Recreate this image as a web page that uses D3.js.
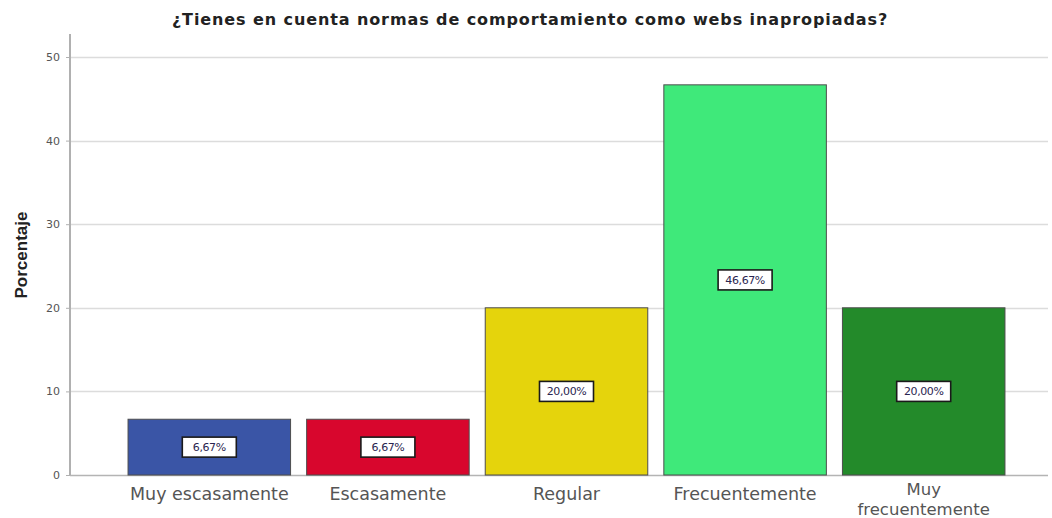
<!DOCTYPE html>
<html>
<head>
<meta charset="utf-8">
<script src="https://cdn.jsdelivr.net/npm/d3@7"></script>
<style>
  body { margin: 0; background: #fff; }
  svg text { font-family: "DejaVu Sans", Verdana, sans-serif; }
</style>
</head>
<body>
<div id="chart"></div>
<script>
// Data
var categories = ["Muy escasamente", "Escasamente", "Regular", "Frecuentemente", "Muy frecuentemente"],
	values = [6.67, 6.67, 20.00, 46.67, 20.00],
	valueLabels = ["6,67%", "6,67%", "20,00%", "46,67%", "20,00%"],
	barColors = ["#3a55a6", "#d8062d", "#e5d40c", "#3fe97a", "#238a2a"],
	yTicks = [0, 10, 20, 30, 40, 50];

var width = 1052,
	height = 518,
	margin = {top: 32, right: 4, bottom: 43, left: 70};

var svg = d3.select("#chart").append("svg")
	.attr("width", width)
	.attr("height", height);

var y = d3.scaleLinear()
	.domain([0, 50])
	.range([height - margin.bottom, 57]);

var x = d3.scaleBand()
	.domain(categories)
	.range([120, 1013])
	.paddingInner(0.09)
	.paddingOuter(0.045);

// grid lines
svg.append("g")
	.selectAll("line")
	.data(yTicks)
	.enter().append("line")
	.attr("x1", margin.left)
	.attr("x2", width - margin.right)
	.attr("y1", function(d) { return Math.round(y(d)) + 0.5; })
	.attr("y2", function(d) { return Math.round(y(d)) + 0.5; })
	.attr("stroke", function(d) { return d === 0 ? "#b4b4b4" : "#dcdcdc"; })
	.attr("stroke-width", 1.5);

// y axis
var yAxis = svg.append("g")
	.attr("transform", "translate(" + margin.left + ",0)")
	.call(d3.axisLeft(y).tickValues(yTicks).tickSize(4).tickPadding(6));
yAxis.select(".domain").remove();
yAxis.append("line")
	.attr("x1", 0).attr("x2", 0)
	.attr("y1", 34).attr("y2", y(0))
	.attr("stroke", "#b0b0b0")
	.attr("stroke-width", 2);
yAxis.selectAll(".tick line").attr("stroke", "#b0b0b0");
yAxis.selectAll(".tick text")
	.attr("fill", "#555")
	.style("font-size", "11px");

// bars
svg.append("g")
	.selectAll("rect")
	.data(values)
	.enter().append("rect")
	.attr("x", function(d, i) { return x(categories[i]); })
	.attr("y", function(d) { return y(d); })
	.attr("width", x.bandwidth())
	.attr("height", function(d) { return y(0) - y(d); })
	.attr("fill", function(d, i) { return barColors[i]; })
	.attr("stroke", "#4d4d4d")
	.attr("stroke-width", 1);

// value labels (white boxes)
var lab = svg.append("g")
	.selectAll("g")
	.data(values)
	.enter().append("g")
	.attr("transform", function(d, i) {
		return "translate(" + (x(categories[i]) + x.bandwidth() / 2) + "," + y(d / 2) + ")";
	});

lab.append("rect")
	.attr("x", -27).attr("y", -10)
	.attr("width", 54).attr("height", 20)
	.attr("fill", "#fff")
	.attr("stroke", "#1a1a1a")
	.attr("stroke-width", 1.6);

lab.append("text")
	.attr("text-anchor", "middle")
	.attr("dy", "0.35em")
	.attr("fill", "#2a2550")
	.style("font-size", "11px")
	.style("letter-spacing", "-0.4px")
	.text(function(d, i) { return valueLabels[i]; });

// category labels
var cat = svg.append("g")
	.selectAll("text")
	.data(categories)
	.enter().append("text")
	.attr("x", function(d) { return x(d) + x.bandwidth() / 2; })
	.attr("y", 500)
	.attr("text-anchor", "middle")
	.attr("fill", "#555")
	.style("font-size", "17.5px");

cat.each(function(d) {
	var t = d3.select(this);
	if (d === "Muy frecuentemente") {
		t.style("font-size", "16.5px");
		t.append("tspan").attr("x", t.attr("x")).attr("y", 495).text("Muy");
		t.append("tspan").attr("x", t.attr("x")).attr("y", 515).text("frecuentemente");
	} else {
		t.text(d);
	}
});

// y title
svg.append("text")
	.attr("transform", "translate(27," + 255 + ") rotate(-90)")
	.attr("text-anchor", "middle")
	.attr("fill", "#222")
	.style("font-family", "'Liberation Sans', Arial, sans-serif")
	.style("font-weight", "bold")
	.style("font-size", "17px")
	.text("Porcentaje");

// title
svg.append("text")
	.attr("x", 530)
	.attr("y", 25)
	.attr("text-anchor", "middle")
	.attr("fill", "#222")
	.style("font-weight", "bold")
	.style("font-size", "16px")
	.style("letter-spacing", "0.9px")
	.text("¿Tienes en cuenta normas de comportamiento como webs inapropiadas?");
</script>
</body>
</html>
